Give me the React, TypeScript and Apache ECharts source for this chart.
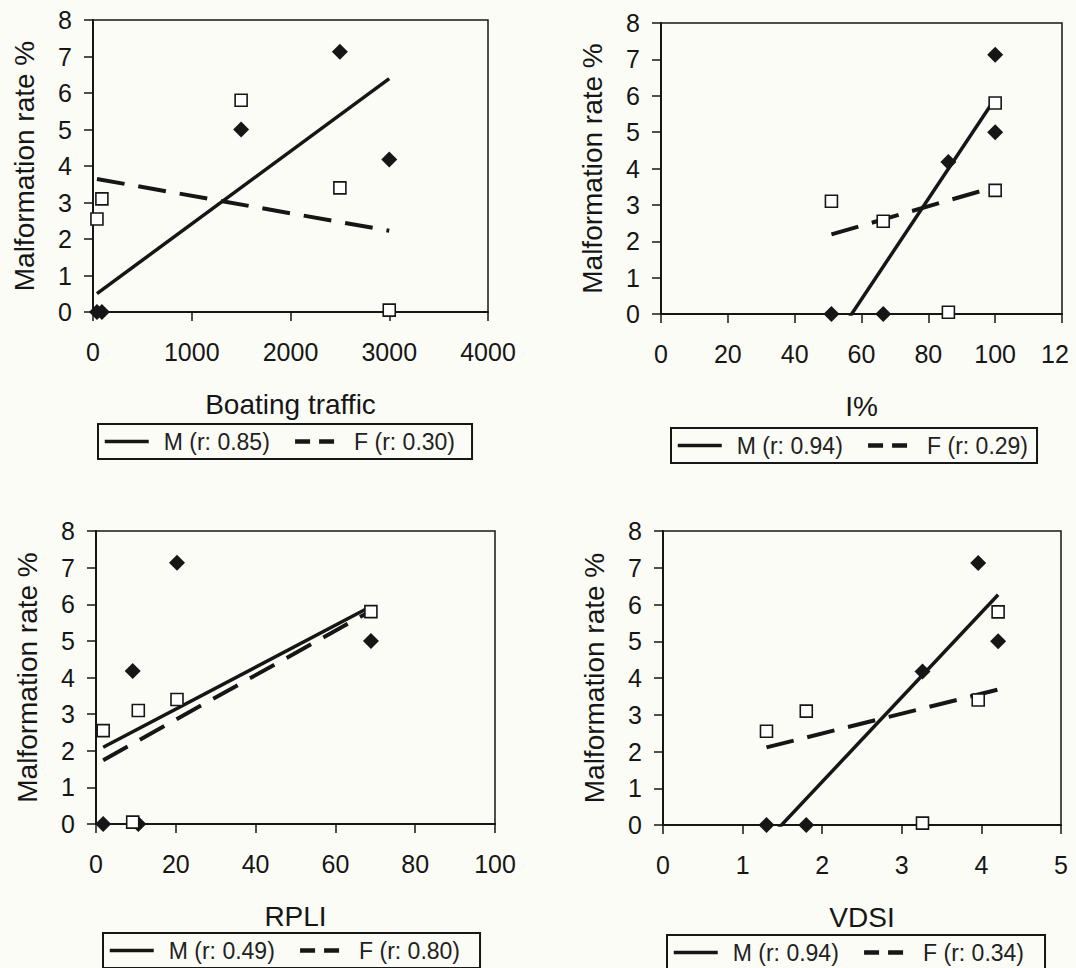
import React, { useEffect, useRef } from 'react';
import * as echarts from 'echarts';

// ---- data (one value per site, same site order in every array) ----
const maleRate = [0, 0, 4.18, 7.13, 5.0];
const femaleRate = [2.55, 3.1, 0.05, 3.4, 5.8];
const boatingTraffic = [40, 90, 3000, 2500, 1500];
const iPercent = [66.5, 51, 86, 100, 100];
const rpli = [1.8, 10.6, 9.2, 20.3, 68.9];
const vdsi = [1.3, 1.8, 3.26, 3.96, 4.21];

const xValues = [boatingTraffic, iPercent, rpli, vdsi];
const xNames = ['Boating traffic', 'I%', 'RPLI', 'VDSI'];
const xMax = [4000, 120, 100, 5];
const xInterval = [1000, 20, 20, 1];
const mLegend = ['M (r: 0.85)', 'M (r: 0.94)', 'M (r: 0.49)', 'M (r: 0.94)'];
const fLegend = ['F (r: 0.30)', 'F (r: 0.29)', 'F (r: 0.80)', 'F (r: 0.34)'];
const yTitle = 'Malformation rate %';
const yMax = 8;
const yInterval = 1;

// ---- layout ----
const FONT = '"Liberation Sans", Arial, Helvetica, sans-serif';
const INK = '#161616';
const grids = [
  { left: 93, top: 20, width: 395, height: 292 },
  { left: 661, top: 23, width: 401, height: 291 },
  { left: 96, top: 531, width: 399, height: 293 },
  { left: 663, top: 531, width: 398, height: 294 },
];
const legendPos = [
  { left: 98, top: 424, padRight: 17 },
  { left: 671, top: 428, padRight: 9 },
  { left: 103, top: 933, padRight: 20 },
  { left: 667, top: 935, padRight: 21 },
];

function trend(xs: number[], ys: number[]): number[][] {
  const n = xs.length;
  const mx = xs.reduce((s, v) => s + v, 0) / n;
  const my = ys.reduce((s, v) => s + v, 0) / n;
  let sxx = 0;
  let sxy = 0;
  for (let i = 0; i < n; i++) {
    sxx += (xs[i] - mx) * (xs[i] - mx);
    sxy += (xs[i] - mx) * (ys[i] - my);
  }
  const b = sxy / sxx;
  const a = my - b * mx;
  const x0 = Math.min(...xs);
  const x1 = Math.max(...xs);
  return [
    [x0, a + b * x0],
    [x1, a + b * x1],
  ];
}

function pairs(xs: number[], ys: number[]): number[][] {
  return xs.map((x, i) => [x, ys[i]]);
}

export default function App() {
  const ref = useRef<HTMLDivElement>(null);

  useEffect(() => {
    if (!ref.current) return;
    const chart = echarts.init(ref.current, undefined, { renderer: 'svg' });

    const gridOpts = grids.map((g) => ({
      ...g,
      show: true,
      borderColor: INK,
      borderWidth: 1.5,
      backgroundColor: 'transparent',
      containLabel: false,
    }));

    const xAxes = xNames.map((name, i) => ({
      type: 'value',
      gridIndex: i,
      min: 0,
      max: xMax[i],
      interval: xInterval[i],
      name,
      nameLocation: 'middle',
      nameGap: 78,
      nameTextStyle: { fontSize: 28, color: INK, fontFamily: FONT },
      axisLine: { show: true, onZero: false, lineStyle: { color: INK, width: 2 } },
      axisTick: { show: true, inside: false, length: 9, lineStyle: { color: INK, width: 1.5 } },
      splitLine: { show: false },
      axisLabel: {
        show: true,
        margin: 27,
        fontSize: 25,
        color: INK,
        fontFamily: FONT,
        showMinLabel: true,
        showMaxLabel: true,
        formatter:
          i === 1
            ? (v: number) => (v === 120 ? '{cut|12}' : String(v))
            : (v: number) => String(v),
        rich: {
          cut: { fontSize: 25, color: INK, fontFamily: FONT, padding: [0, 14, 0, 0] },
        },
      },
    }));

    const yAxes = xNames.map((_, i) => ({
      type: 'value',
      gridIndex: i,
      min: 0,
      max: yMax,
      interval: yInterval,
      name: yTitle,
      nameLocation: 'middle',
      nameGap: 55,
      nameTextStyle: { fontSize: 28, color: INK, fontFamily: FONT },
      axisLine: { show: true, lineStyle: { color: INK, width: 2 } },
      axisTick: { show: true, inside: false, length: 9, lineStyle: { color: INK, width: 1.5 } },
      splitLine: { show: false },
      axisLabel: {
        margin: 21,
        fontSize: 25,
        color: INK,
        fontFamily: FONT,
        showMinLabel: true,
        showMaxLabel: true,
      },
    }));

    const series: any[] = [];
    xValues.forEach((xs, i) => {
      series.push({
        name: mLegend[i],
        type: 'line',
        xAxisIndex: i,
        yAxisIndex: i,
        data: trend(xs, maleRate),
        symbol: 'none',
        clip: true,
        lineStyle: { color: INK, width: 3.5, type: 'solid' },
        itemStyle: { color: INK },
        z: 2,
        silent: true,
      });
      series.push({
        name: fLegend[i],
        type: 'line',
        xAxisIndex: i,
        yAxisIndex: i,
        data: trend(xs, femaleRate),
        symbol: 'none',
        clip: true,
        lineStyle: { color: INK, width: 4, type: [28, 14] },
        itemStyle: { color: INK },
        z: 2,
        silent: true,
      });
      series.push({
        name: 'M sites ' + (i + 1),
        type: 'scatter',
        xAxisIndex: i,
        yAxisIndex: i,
        data: pairs(xs, maleRate),
        symbol: 'diamond',
        symbolSize: 16,
        itemStyle: { color: INK, opacity: 1 },
        z: 3,
        silent: true,
      });
      series.push({
        name: 'F sites ' + (i + 1),
        type: 'scatter',
        xAxisIndex: i,
        yAxisIndex: i,
        data: pairs(xs, femaleRate),
        symbol: 'rect',
        symbolSize: 12,
        itemStyle: { color: '#ffffff', borderColor: INK, borderWidth: 1.6, opacity: 1 },
        z: 4,
        silent: true,
      });
    });

    const legends = legendPos.map((p, i) => ({
      left: p.left,
      top: p.top,
      orient: 'horizontal',
      selectedMode: false,
      itemWidth: 44,
      itemHeight: 14,
      itemGap: 23,
      padding: [6, p.padRight, 6, 5],
      borderColor: INK,
      borderWidth: 2,
      backgroundColor: 'transparent',
      textStyle: { fontSize: 23, color: '#222', fontFamily: FONT, padding: [0, 0, 0, 10] },
      data: [
        {
          name: mLegend[i],
          lineStyle: { color: INK, width: 3.5, type: 'solid' },
          itemStyle: { opacity: 0, color: 'rgba(0,0,0,0)', borderWidth: 0 },
        },
        {
          name: fLegend[i],
          lineStyle: { color: INK, width: 4.5, type: [15, 9] },
          itemStyle: { opacity: 0, color: 'rgba(0,0,0,0)', borderWidth: 0 },
        },
      ],
    }));

    chart.setOption({
      animation: false,
      backgroundColor: '#fcfcf7',
      grid: gridOpts,
      xAxis: xAxes,
      yAxis: yAxes,
      legend: legends,
      series,
    });

    return () => chart.dispose();
  }, []);

  return (
    <div
      ref={ref}
      style={{ position: 'absolute', left: 0, top: 0, width: 1076, height: 968 }}
    />
  );
}
